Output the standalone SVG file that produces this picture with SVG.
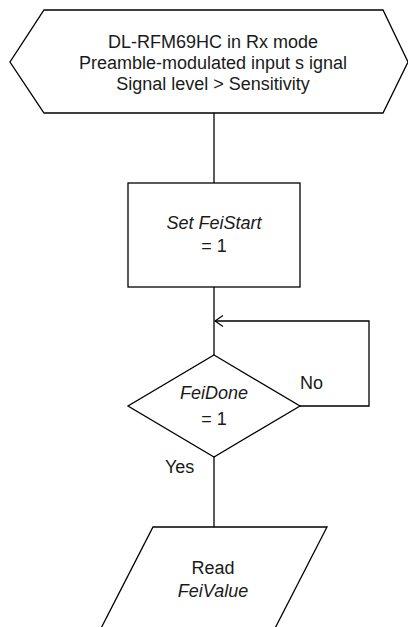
<svg xmlns="http://www.w3.org/2000/svg" width="408" height="627" viewBox="0 0 408 627">
<style>
.s{fill:#fff;stroke:#000;stroke-width:1.3}
.c{fill:none;stroke:#000;stroke-width:1.3}
text{font-family:"Liberation Sans",Arial,sans-serif;font-size:18px;fill:#1a1a1a}
.m{text-anchor:middle}
.i{font-style:italic}
</style>
<defs>
<marker id="ah" viewBox="0 0 10 12" refX="9" refY="6" markerWidth="10" markerHeight="12" markerUnits="userSpaceOnUse" orient="auto">
<path d="M1,0.5 L9,6 L1,11.5" fill="none" stroke="#000" stroke-width="1.2"/>
</marker>
</defs>
<g id="connectors">
<line class="c" x1="214" y1="113" x2="214" y2="183"/>
<line class="c" x1="214" y1="287" x2="214" y2="355"/>
<polyline class="c" points="300,406 369,406 369,321 215,321" marker-end="url(#ah)"/>
<line class="c" x1="214" y1="457" x2="214" y2="527"/>
</g>
<g id="start">
<polygon class="s" points="44,10 383,10 408,62 383,113 44,113 10,62"/>
<text class="m" x="213" y="48">DL-RFM69HC in Rx mode</text>
<text class="m" x="213" y="69">Preamble-modulated input s ignal</text>
<text class="m" x="213" y="90">Signal level &gt; Sensitivity</text>
</g>
<g id="set">
<rect class="s" x="128" y="183" width="172" height="104"/>
<text class="m i" x="214" y="229">Set FeiStart</text>
<text class="m" x="214" y="252">= 1</text>
</g>
<g id="decision">
<polygon class="s" points="214,355 300,406 214,457 128,406"/>
<text class="m i" x="214" y="399">FeiDone</text>
<text class="m" x="214" y="425">= 1</text>
<text x="300" y="389">No</text>
<text x="165" y="473">Yes</text>
</g>
<g id="read">
<polygon class="s" points="153,527 327,527 269,640 95,640"/>
<text class="m" x="213" y="574">Read</text>
<text class="m i" x="213" y="597">FeiValue</text>
</g>
</svg>
